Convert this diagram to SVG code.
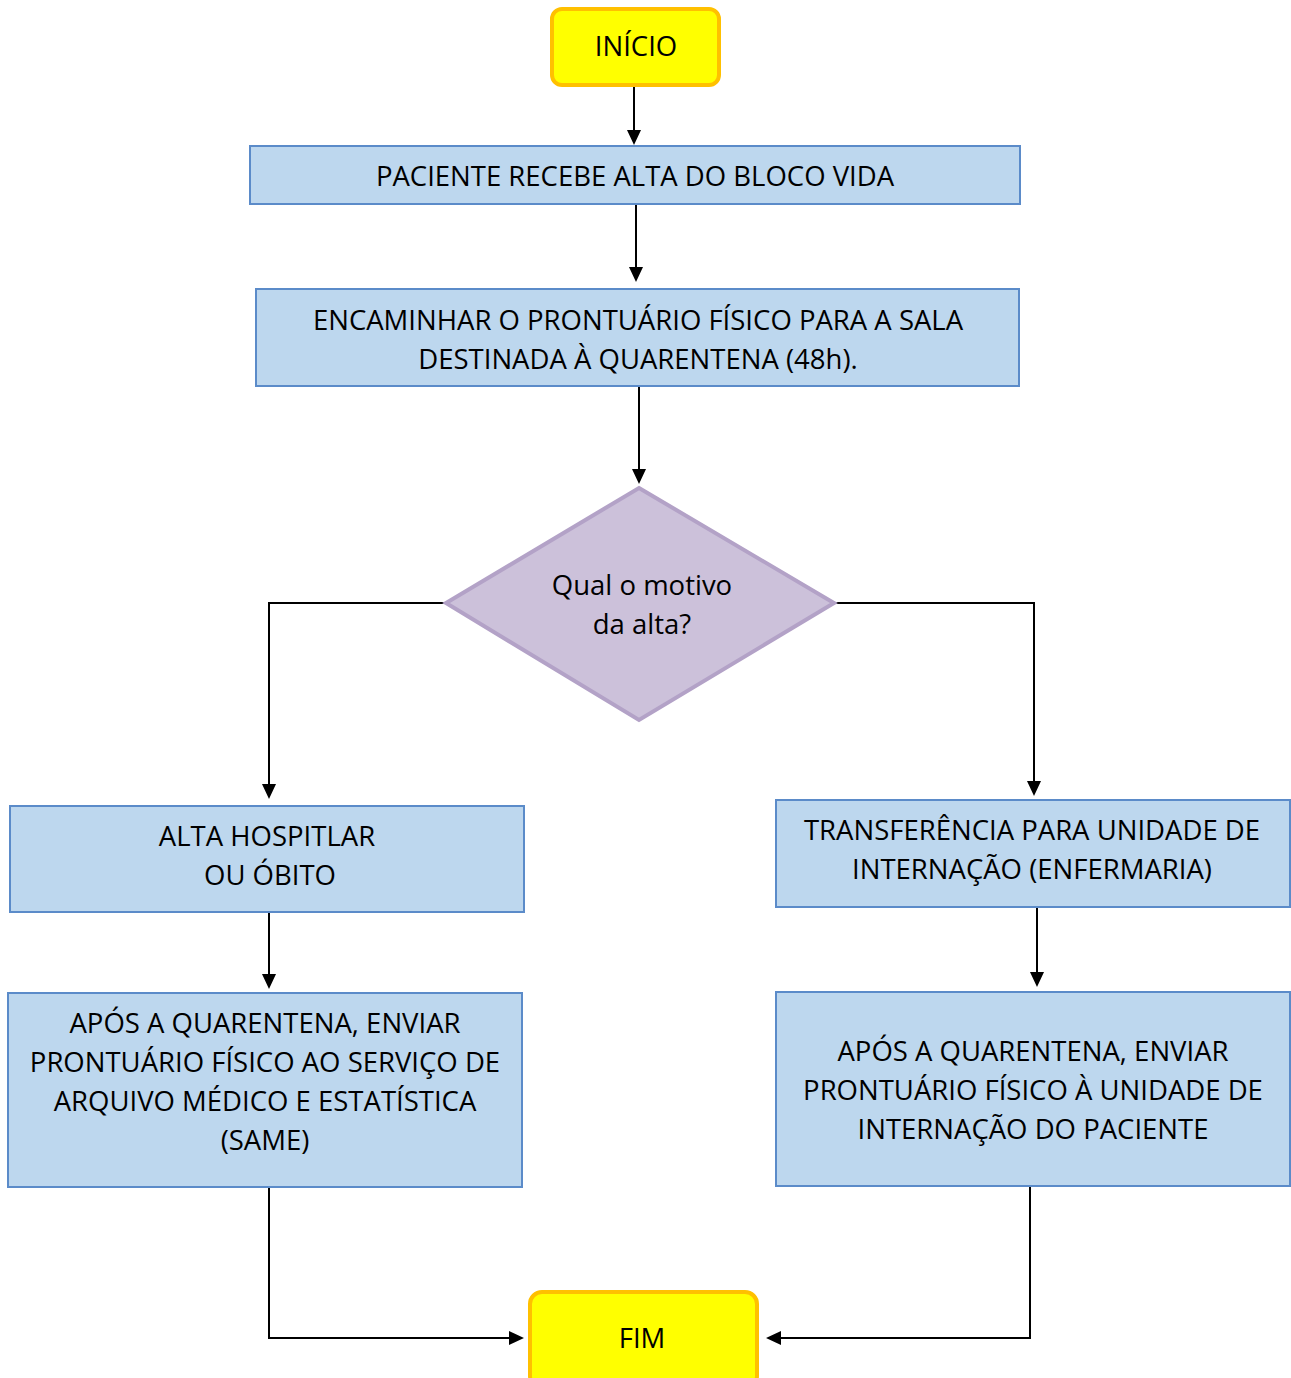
<svg xmlns="http://www.w3.org/2000/svg" width="1291" height="1378" viewBox="0 0 1291 1378">
<defs>
<style>
.term{fill:#FFFF00;stroke:#FFC000;stroke-width:4}
.proc{fill:#BDD7EE;stroke:#5B8BC9;stroke-width:2}
.dec{fill:#CCC1DA;stroke:#B3A2C7;stroke-width:4}
text{font-family:"Open Sans","Liberation Sans",sans-serif;font-size:27.5px;fill:#000;text-anchor:middle}
.c{fill:none;stroke:#000;stroke-width:2}
</style>
</defs>
<rect width="1291" height="1378" fill="#fff"/>
<g id="connectors">
<path d="M634,86 V130" class="c"/><path d="M627,130 L641,130 L634,145 Z"/>
<path d="M636,205 V268" class="c"/><path d="M629,267 L643,267 L636,282 Z"/>
<path d="M639,387 V470" class="c"/><path d="M632,469 L646,469 L639,484 Z"/>
<path d="M446,603 H269 V785" class="c"/><path d="M262,784 L276,784 L269,799 Z"/>
<path d="M834,603 H1034 V782" class="c"/><path d="M1027,781 L1041,781 L1034,796 Z"/>
<path d="M269,913 V975" class="c"/><path d="M262,974 L276,974 L269,989 Z"/>
<path d="M1037,908 V973" class="c"/><path d="M1030,972 L1044,972 L1037,987 Z"/>
<path d="M269,1187 V1338 H510" class="c"/><path d="M509,1331 L509,1345 L524,1338 Z"/>
<path d="M1030,1187 V1338 H780" class="c"/><path d="M781,1331 L781,1345 L766,1338 Z"/>
</g>
<g id="inicio">
<rect class="term" x="552" y="9" width="167" height="76" rx="10"/>
<text x="636" y="56">INÍCIO</text>
</g>
<g id="alta-bloco">
<rect class="proc" x="250" y="146" width="770" height="58"/>
<text x="635" y="186">PACIENTE RECEBE ALTA DO BLOCO VIDA</text>
</g>
<g id="encaminhar">
<rect class="proc" x="256" y="289" width="763" height="97"/>
<text x="638" y="330">ENCAMINHAR O PRONTUÁRIO FÍSICO PARA A SALA</text>
<text x="638" y="369">DESTINADA À QUARENTENA (48h).</text>
</g>
<g id="decisao">
<polygon class="dec" points="639,488 834,603 639,720 446,603"/>
<text x="642" y="595">Qual o motivo</text>
<text x="642" y="634">da alta?</text>
</g>
<g id="alta-hospitalar">
<rect class="proc" x="10" y="806" width="514" height="106"/>
<text x="267" y="846">ALTA HOSPITLAR</text>
<text x="270" y="885">OU ÓBITO</text>
</g>
<g id="transferencia">
<rect class="proc" x="776" y="800" width="514" height="107"/>
<text x="1032" y="840">TRANSFERÊNCIA PARA UNIDADE DE</text>
<text x="1032" y="879">INTERNAÇÃO (ENFERMARIA)</text>
</g>
<g id="enviar-same">
<rect class="proc" x="8" y="993" width="514" height="194"/>
<text x="265" y="1033">APÓS A QUARENTENA, ENVIAR</text>
<text x="265" y="1072">PRONTUÁRIO FÍSICO AO SERVIÇO DE</text>
<text x="265" y="1111">ARQUIVO MÉDICO E ESTATÍSTICA</text>
<text x="265" y="1150">(SAME)</text>
</g>
<g id="enviar-unidade">
<rect class="proc" x="776" y="992" width="514" height="194"/>
<text x="1033" y="1061">APÓS A QUARENTENA, ENVIAR</text>
<text x="1033" y="1100">PRONTUÁRIO FÍSICO À UNIDADE DE</text>
<text x="1033" y="1139">INTERNAÇÃO DO PACIENTE</text>
</g>
<g id="fim">
<rect class="term" x="530" y="1292" width="227" height="96" rx="12"/>
<text x="642" y="1348">FIM</text>
</g>
</svg>
